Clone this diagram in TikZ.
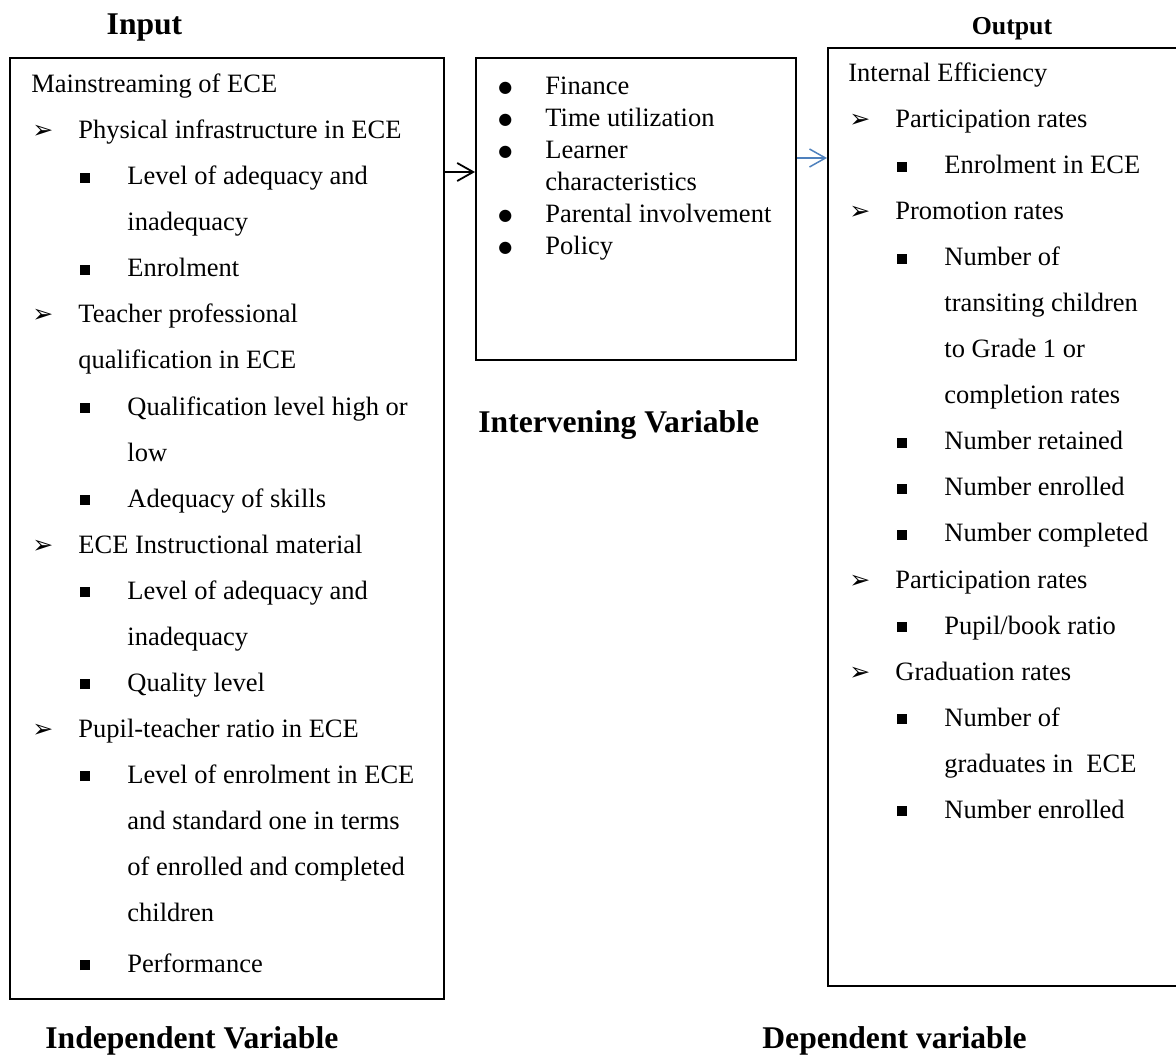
\documentclass[tikz,border=0pt]{standalone}
\usepackage{fontspec}
\setmainfont{Liberation Serif}
\newfontfamily\dingfont{DejaVu Sans}
\usetikzlibrary{arrows.meta,fit}

\definecolor{linkblue}{RGB}{79,129,189}

% fonts
\newcommand{\bodyfont}{\fontsize{13.25}{23}\selectfont}
\newcommand{\midfont}{\fontsize{13.25}{16}\selectfont}
\newcommand{\headfont}{\fontsize{15.8}{18}\selectfont\bfseries}
\newcommand{\outfont}{\fontsize{12.9}{15}\selectfont\bfseries}

% list marks and indents
\newcommand{\arrowmark}{{\dingfont\fontsize{12.5}{12.5}\selectfont ➢}}
\newcommand{\squaremark}{\rule[1pt]{4.8pt}{4.8pt}}
\newcommand{\dotmark}{\raisebox{1.2pt}{\dingfont\fontsize{8}{8}\selectfont ●}}
\newcommand{\La}[1]{\makebox[23.5pt][l]{\hspace{0.5pt}\arrowmark}#1}
\newcommand{\Lb}[1]{\hspace*{23.5pt}#1}
\newcommand{\Ls}[1]{\hspace*{24.5pt}\makebox[23.5pt][l]{\squaremark}#1}
\newcommand{\Lc}[1]{\hspace*{48pt}#1}
\newcommand{\Ld}[1]{\makebox[23.5pt][l]{\dotmark}#1}

\tikzset{
  varbox/.style={draw, line width=1pt, inner sep=0pt},
  listtext/.style={anchor=base west, inner sep=0pt, font=\bodyfont},
  vartitle/.style={inner sep=0pt, font=\headfont},
  flow/.style={-{Straight Barb[length=8pt,width=9pt]}, line width=0.9pt}
}

\begin{document}
\begin{tikzpicture}[x=0.5pt, y=-0.5pt]
  \useasboundingbox (0,0) rectangle (1176,1059);

  % boxes
  \node[varbox, fit={(10,58) (444,999)}] (lbox) {};
  \node[varbox, fit={(476,58) (796,360)}] (mbox) {};
  \node[varbox, fit={(828,48) (1182,986)}] (rbox) {};

  % titles
  \node[vartitle, anchor=base] (tin) at (144.5,35) {Input};
  \node[vartitle, anchor=base, font=\outfont] (tout) at (1012,35) {Output};
  \node[vartitle, anchor=base west] (tmid) at (478,432) {Intervening Variable};
  \node[vartitle, anchor=base west] (tind) at (45,1048) {Independent Variable};
  \node[vartitle, anchor=base east] (tdep) at (1027,1048) {Dependent variable};

  % input list
  \node[listtext] (ltext) at (31,93) {\begin{tabular}[t]{@{}l@{}}
    Mainstreaming of ECE\\
    \La{Physical infrastructure in ECE}\\
    \Ls{Level of adequacy and}\\
    \Lc{inadequacy}\\
    \Ls{Enrolment}\\
    \La{Teacher professional}\\
    \Lb{qualification in ECE}\\
    \Ls{Qualification level high or}\\
    \Lc{low}\\
    \Ls{Adequacy of skills}\\
    \La{ECE Instructional material}\\
    \Ls{Level of adequacy and}\\
    \Lc{inadequacy}\\
    \Ls{Quality level}\\
    \La{Pupil-teacher ratio in ECE}\\
    \Ls{Level of enrolment in ECE}\\
    \Lc{and standard one in terms}\\
    \Lc{of enrolled and completed}\\
    \Lc{children}\\[2.5pt]
    \Ls{Performance}
  \end{tabular}};

  % intervening list
  \node[listtext, font=\midfont] (mtext) at (498,95) {\begin{tabular}[t]{@{}l@{}}
    \Ld{Finance}\\
    \Ld{Time utilization}\\
    \Ld{Learner}\\
    \Lb{characteristics}\\
    \Ld{Parental involvement}\\
    \Ld{Policy}
  \end{tabular}};

  % output list
  \node[listtext] (rtext) at (848,82) {\begin{tabular}[t]{@{}l@{}}
    Internal Efficiency\\
    \La{Participation rates}\\
    \Ls{Enrolment in ECE}\\
    \La{Promotion rates}\\
    \Ls{Number of}\\
    \Lc{transiting children}\\
    \Lc{to Grade 1 or}\\
    \Lc{completion rates}\\
    \Ls{Number retained}\\
    \Ls{Number enrolled}\\
    \Ls{Number completed}\\
    \La{Participation rates}\\
    \Ls{Pupil/book ratio}\\
    \La{Graduation rates}\\
    \Ls{Number of}\\
    \Lc{graduates in\ \ ECE}\\
    \Ls{Number enrolled}
  \end{tabular}};

  % connectors
  \coordinate (ya) at (0,172);
  \coordinate (yb) at (0,158);
  \draw[flow] (lbox.east |- ya) -- (mbox.west |- ya);
  \draw[flow, linkblue, line width=0.75pt] (mbox.east |- yb) -- (rbox.west |- yb);
\end{tikzpicture}
\end{document}
